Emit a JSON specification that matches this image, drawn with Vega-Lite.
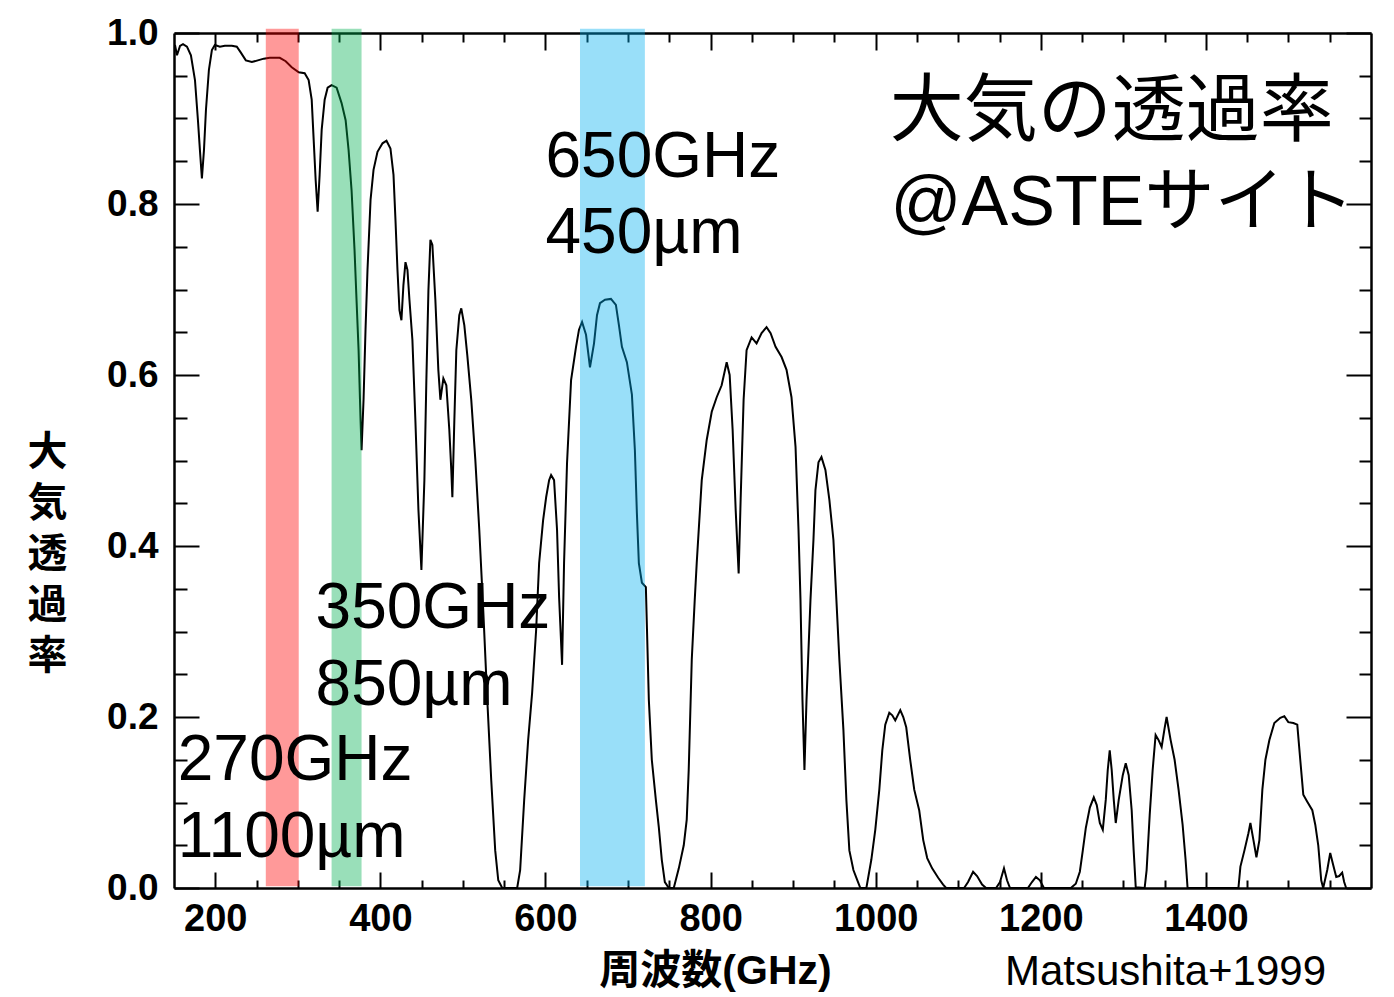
{
  "$schema": "https://vega.github.io/schema/vega-lite/v6.json",
  "width": 1197,
  "height": 855,
  "autosize": {"type": "none"},
  "padding": {"left": 174, "top": 33, "right": 23, "bottom": 109},
  "background": "white",
  "config": {
    "view": {"stroke": null},
    "axis": {"domainColor": "black", "domainWidth": 2.5, "tickColor": "black", "tickWidth": 2, "labelColor": "black", "titleColor": "black", "grid": false}
  },
  "datasets": {
    "curve": [
      {"f":151.2,"t":0.986},{"f":153.6,"t":0.974},{"f":157.3,"t":0.985},{"f":160.9,"t":0.987},{"f":165.7,"t":0.984},{"f":170.5,"t":0.974},{"f":175.4,"t":0.945},{"f":179.0,"t":0.898},{"f":181.4,"t":0.863},{"f":183.8,"t":0.830},{"f":186.3,"t":0.863},{"f":188.7,"t":0.910},{"f":192.3,"t":0.957},{"f":195.9,"t":0.980},{"f":199.5,"t":0.986},{"f":205.6,"t":0.984},{"f":211.6,"t":0.985},{"f":220.1,"t":0.985},{"f":226.1,"t":0.984},{"f":231.0,"t":0.977},{"f":237.0,"t":0.968},{"f":244.3,"t":0.966},{"f":251.5,"t":0.968},{"f":258.8,"t":0.970},{"f":266.0,"t":0.971},{"f":278.1,"t":0.971},{"f":285.3,"t":0.967},{"f":292.6,"t":0.960},{"f":301.1,"t":0.954},{"f":308.3,"t":0.953},{"f":313.1,"t":0.945},{"f":316.8,"t":0.922},{"f":319.2,"t":0.875},{"f":321.6,"t":0.828},{"f":324.0,"t":0.791},{"f":326.4,"t":0.834},{"f":328.9,"t":0.887},{"f":332.5,"t":0.922},{"f":336.1,"t":0.936},{"f":340.9,"t":0.939},{"f":347.0,"t":0.936},{"f":353.0,"t":0.918},{"f":357.9,"t":0.898},{"f":361.5,"t":0.863},{"f":365.1,"t":0.816},{"f":368.7,"t":0.746},{"f":371.1,"t":0.688},{"f":373.6,"t":0.629},{"f":376.0,"t":0.547},{"f":377.2,"t":0.512},{"f":379.6,"t":0.571},{"f":382.0,"t":0.653},{"f":384.4,"t":0.723},{"f":388.1,"t":0.805},{"f":391.7,"t":0.840},{"f":396.5,"t":0.861},{"f":402.6,"t":0.871},{"f":407.4,"t":0.874},{"f":412.2,"t":0.865},{"f":415.9,"t":0.834},{"f":418.3,"t":0.781},{"f":420.7,"t":0.723},{"f":423.1,"t":0.676},{"f":425.5,"t":0.664},{"f":427.9,"t":0.705},{"f":430.4,"t":0.732},{"f":432.8,"t":0.723},{"f":435.2,"t":0.688},{"f":438.8,"t":0.641},{"f":442.4,"t":0.547},{"f":446.1,"t":0.442},{"f":449.7,"t":0.372},{"f":453.3,"t":0.477},{"f":455.7,"t":0.594},{"f":458.2,"t":0.699},{"f":460.6,"t":0.758},{"f":463.0,"t":0.752},{"f":466.6,"t":0.688},{"f":470.2,"t":0.606},{"f":472.7,"t":0.571},{"f":476.3,"t":0.596},{"f":479.9,"t":0.588},{"f":483.5,"t":0.536},{"f":485.9,"t":0.489},{"f":487.2,"t":0.457},{"f":489.6,"t":0.547},{"f":492.0,"t":0.629},{"f":495.6,"t":0.670},{"f":498.0,"t":0.678},{"f":501.7,"t":0.658},{"f":505.3,"t":0.623},{"f":510.1,"t":0.571},{"f":515.0,"t":0.501},{"f":519.8,"t":0.419},{"f":524.6,"t":0.325},{"f":529.5,"t":0.220},{"f":534.3,"t":0.126},{"f":539.1,"t":0.044},{"f":542.8,"t":0.009},{"f":547.6,"t":0},{"f":565.7,"t":0},{"f":569.3,"t":0.021},{"f":574.2,"t":0.103},{"f":579.0,"t":0.173},{"f":583.8,"t":0.228},{"f":588.7,"t":0.302},{"f":592.3,"t":0.380},{"f":597.1,"t":0.430},{"f":600.8,"t":0.457},{"f":604.4,"t":0.477},{"f":606.8,"t":0.483},{"f":610.4,"t":0.477},{"f":614.0,"t":0.419},{"f":616.5,"t":0.340},{"f":620.1,"t":0.261},{"f":622.5,"t":0.380},{"f":626.1,"t":0.497},{"f":631.0,"t":0.594},{"f":637.0,"t":0.633},{"f":640.6,"t":0.653},{"f":644.3,"t":0.662},{"f":649.1,"t":0.647},{"f":653.9,"t":0.609},{"f":658.8,"t":0.637},{"f":662.4,"t":0.670},{"f":666.0,"t":0.684},{"f":672.1,"t":0.688},{"f":679.3,"t":0.689},{"f":685.3,"t":0.682},{"f":689.0,"t":0.658},{"f":692.6,"t":0.633},{"f":698.6,"t":0.615},{"f":704.7,"t":0.577},{"f":708.3,"t":0.512},{"f":710.7,"t":0.439},{"f":713.1,"t":0.380},{"f":716.8,"t":0.357},{"f":721.6,"t":0.352},{"f":725.2,"t":0.220},{"f":728.8,"t":0.150},{"f":733.7,"t":0.103},{"f":737.3,"t":0.071},{"f":740.9,"t":0.033},{"f":744.6,"t":0.007},{"f":749.4,"t":0},{"f":755.4,"t":0},{"f":761.5,"t":0.023},{"f":767.5,"t":0.050},{"f":771.1,"t":0.080},{"f":773.5,"t":0.138},{"f":777.2,"t":0.267},{"f":780.8,"t":0.337},{"f":783.2,"t":0.380},{"f":789.3,"t":0.477},{"f":795.3,"t":0.524},{"f":801.4,"t":0.557},{"f":807.4,"t":0.574},{"f":813.4,"t":0.588},{"f":819.5,"t":0.615},{"f":823.1,"t":0.600},{"f":826.7,"t":0.536},{"f":830.4,"t":0.442},{"f":834.0,"t":0.368},{"f":836.4,"t":0.454},{"f":840.0,"t":0.571},{"f":843.6,"t":0.629},{"f":849.7,"t":0.644},{"f":855.7,"t":0.637},{"f":861.8,"t":0.649},{"f":867.8,"t":0.656},{"f":872.7,"t":0.649},{"f":878.7,"t":0.633},{"f":886.0,"t":0.621},{"f":892.0,"t":0.606},{"f":898.0,"t":0.574},{"f":902.9,"t":0.516},{"f":906.5,"t":0.419},{"f":908.9,"t":0.337},{"f":911.3,"t":0.220},{"f":913.7,"t":0.138},{"f":916.2,"t":0.220},{"f":921.0,"t":0.337},{"f":924.6,"t":0.407},{"f":927.0,"t":0.465},{"f":930.7,"t":0.498},{"f":934.3,"t":0.504},{"f":939.1,"t":0.489},{"f":943.9,"t":0.454},{"f":948.8,"t":0.407},{"f":952.4,"t":0.337},{"f":956.0,"t":0.267},{"f":960.9,"t":0.185},{"f":964.5,"t":0.103},{"f":968.1,"t":0.044},{"f":973.0,"t":0.021},{"f":977.8,"t":0.009},{"f":981.4,"t":0},{"f":988.7,"t":0},{"f":994.7,"t":0.033},{"f":999.5,"t":0.068},{"f":1004.4,"t":0.115},{"f":1008.0,"t":0.161},{"f":1011.6,"t":0.191},{"f":1016.5,"t":0.205},{"f":1020.1,"t":0.202},{"f":1023.7,"t":0.196},{"f":1029.8,"t":0.208},{"f":1033.4,"t":0.200},{"f":1037.0,"t":0.188},{"f":1041.8,"t":0.150},{"f":1046.7,"t":0.115},{"f":1052.7,"t":0.091},{"f":1057.6,"t":0.056},{"f":1062.4,"t":0.035},{"f":1068.4,"t":0.023},{"f":1075.7,"t":0.012},{"f":1081.7,"t":0.004},{"f":1085.3,"t":0},{"f":1107.1,"t":0},{"f":1111.9,"t":0.007},{"f":1118.0,"t":0.019},{"f":1122.8,"t":0.014},{"f":1128.9,"t":0.004},{"f":1133.7,"t":0},{"f":1145.8,"t":0},{"f":1150.6,"t":0.007},{"f":1155.4,"t":0.023},{"f":1159.1,"t":0.009},{"f":1162.7,"t":0},{"f":1184.4,"t":0},{"f":1189.3,"t":0.007},{"f":1194.1,"t":0.013},{"f":1198.9,"t":0.009},{"f":1203.8,"t":0},{"f":1236.4,"t":0},{"f":1242.4,"t":0.005},{"f":1247.3,"t":0.019},{"f":1250.9,"t":0.044},{"f":1254.5,"t":0.070},{"f":1259.4,"t":0.094},{"f":1264.2,"t":0.106},{"f":1267.8,"t":0.097},{"f":1271.5,"t":0.076},{"f":1275.1,"t":0.068},{"f":1278.7,"t":0.103},{"f":1281.1,"t":0.138},{"f":1283.5,"t":0.161},{"f":1285.9,"t":0.138},{"f":1288.4,"t":0.103},{"f":1290.8,"t":0.076},{"f":1294.4,"t":0.103},{"f":1299.3,"t":0.132},{"f":1302.9,"t":0.146},{"f":1306.5,"t":0.132},{"f":1310.1,"t":0.091},{"f":1312.5,"t":0.044},{"f":1315.0,"t":0.001},{"f":1325.8,"t":0},{"f":1328.2,"t":0.021},{"f":1331.9,"t":0.085},{"f":1335.5,"t":0.138},{"f":1339.1,"t":0.179},{"f":1342.7,"t":0.173},{"f":1346.4,"t":0.165},{"f":1350.0,"t":0.187},{"f":1352.4,"t":0.200},{"f":1357.3,"t":0.173},{"f":1362.1,"t":0.150},{"f":1366.9,"t":0.115},{"f":1371.8,"t":0.074},{"f":1375.4,"t":0.033},{"f":1377.8,"t":0},{"f":1439.4,"t":0},{"f":1441.8,"t":0.025},{"f":1446.7,"t":0.044},{"f":1451.5,"t":0.064},{"f":1453.9,"t":0.076},{"f":1457.6,"t":0.056},{"f":1461.2,"t":0.036},{"f":1464.8,"t":0.056},{"f":1468.4,"t":0.115},{"f":1472.1,"t":0.150},{"f":1476.9,"t":0.173},{"f":1482.9,"t":0.193},{"f":1490.2,"t":0.199},{"f":1495.0,"t":0.201},{"f":1499.8,"t":0.194},{"f":1505.9,"t":0.193},{"f":1510.7,"t":0.191},{"f":1514.3,"t":0.150},{"f":1518.0,"t":0.109},{"f":1522.8,"t":0.101},{"f":1528.9,"t":0.091},{"f":1532.5,"t":0.074},{"f":1536.1,"t":0.050},{"f":1539.7,"t":0.009},{"f":1542.1,"t":0},{"f":1547.0,"t":0.021},{"f":1550.6,"t":0.041},{"f":1554.2,"t":0.027},{"f":1557.9,"t":0.013},{"f":1561.5,"t":0.014},{"f":1565.1,"t":0.018},{"f":1567.5,"t":0.007},{"f":1569.9,"t":0}
    ],
    "bands": [
      {"band": "270GHz", "f0": 261.2, "f1": 301.1},
      {"band": "350GHz", "f0": 340.9, "f1": 377.2},
      {"band": "650GHz", "f0": 641.8, "f1": 720.4}
    ],
    "bandLabels": [
      {"label": "650GHz", "f": 600, "t": 0.832},
      {"label": "450µm", "f": 600, "t": 0.743},
      {"label": "350GHz", "f": 321.5, "t": 0.304},
      {"label": "850µm", "f": 321.5, "t": 0.214},
      {"label": "270GHz", "f": 154.5, "t": 0.126},
      {"label": "1100µm", "f": 154.5, "t": 0.036}
    ],
    "titleJa": [
      {"label": "大気の透過率", "f": 1017, "t": 0.881}
    ],
    "titleSite": [
      {"label": "@ASTEサイト", "f": 1018, "t": 0.775}
    ],
    "credit": [
      {"label": "Matsushita+1999", "f": 1156.6, "t": -0.1135}
    ]
  },
  "layer": [
    {
      "data": {"name": "curve"},
      "mark": {"type": "line", "color": "black", "strokeWidth": 2},
      "encoding": {
        "x": {"field": "f", "type": "quantitative", "scale": {"domain": [150, 1600], "nice": false, "zero": false},
          "axis": {"orient": "bottom", "values": [200, 400, 600, 800, 1000, 1200, 1400], "format": "d", "tickSize": -16, "labelPadding": 28,
            "labelFont": "Liberation Sans", "labelFontWeight": "bold", "labelFontSize": 38, "labelOverlap": false, "labelFlush": false,
            "title": "周波数(GHz)", "titleFont": "Liberation Sans, Noto Sans CJK JP", "titleFontWeight": "bold", "titleFontSize": 41,
            "titleX": 541, "titleY": 95, "titleAlign": "center", "titleBaseline": "alphabetic"}},
        "y": {"field": "t", "type": "quantitative", "scale": {"domain": [0, 1], "nice": false, "zero": false},
          "axis": {"orient": "left", "values": [0, 0.2, 0.4, 0.6, 0.8, 1], "format": ".1f", "tickSize": -25, "labelPadding": 41,
            "labelFont": "Liberation Sans", "labelFontWeight": "bold", "labelFontSize": 37, "labelOverlap": false, "labelFlush": false,
            "title": ["大", "気", "透", "過", "率"], "titleAngle": 0, "titleX": -127, "titleY": 419, "titleAlign": "center", "titleBaseline": "middle",
            "titleLineHeight": 51, "titleFont": "Noto Sans CJK JP", "titleFontWeight": "bold", "titleFontSize": 40}}
      }
    },
    {
      "data": {"name": "curve"},
      "mark": {"type": "line", "opacity": 0},
      "encoding": {
        "x": {"field": "f", "type": "quantitative", "scale": {"domain": [150, 1600], "nice": false, "zero": false},
          "axis": {"orient": "bottom", "values": [250, 300, 350, 450, 500, 550, 650, 700, 750, 850, 900, 950, 1050, 1100, 1150, 1250, 1300, 1350, 1450, 1500, 1550], "tickSize": -8, "labels": false, "domain": false, "title": null}},
        "y": {"field": "t", "type": "quantitative", "scale": {"domain": [0, 1], "nice": false, "zero": false},
          "axis": {"orient": "left", "values": [0.05, 0.1, 0.15, 0.25, 0.3, 0.35, 0.45, 0.5, 0.55, 0.65, 0.7, 0.75, 0.85, 0.9, 0.95], "tickSize": -13, "labels": false, "domain": false, "title": null}}
      }
    },
    {
      "data": {"name": "curve"},
      "mark": {"type": "line", "opacity": 0},
      "encoding": {
        "x": {"field": "f", "type": "quantitative", "scale": {"domain": [150, 1600], "nice": false, "zero": false},
          "axis": {"orient": "top", "values": [200, 400, 600, 800, 1000, 1200, 1400], "tickSize": -17, "labels": false, "domain": true, "title": null}},
        "y": {"field": "t", "type": "quantitative", "scale": {"domain": [0, 1], "nice": false, "zero": false},
          "axis": {"orient": "right", "values": [0, 0.2, 0.4, 0.6, 0.8, 1], "tickSize": -25, "labels": false, "domain": true, "title": null}}
      }
    },
    {
      "data": {"name": "curve"},
      "mark": {"type": "line", "opacity": 0},
      "encoding": {
        "x": {"field": "f", "type": "quantitative", "scale": {"domain": [150, 1600], "nice": false, "zero": false},
          "axis": {"orient": "top", "values": [250, 300, 350, 450, 500, 550, 650, 700, 750, 850, 900, 950, 1050, 1100, 1150, 1250, 1300, 1350, 1450, 1500, 1550], "tickSize": -9, "labels": false, "domain": false, "title": null}},
        "y": {"field": "t", "type": "quantitative", "scale": {"domain": [0, 1], "nice": false, "zero": false},
          "axis": {"orient": "right", "values": [0.05, 0.1, 0.15, 0.25, 0.3, 0.35, 0.45, 0.5, 0.55, 0.65, 0.7, 0.75, 0.85, 0.9, 0.95], "tickSize": -12, "labels": false, "domain": false, "title": null}}
      }
    },
    {
      "data": {"name": "bands"},
      "mark": {"type": "rect", "opacity": 0.4},
      "encoding": {
        "x": {"field": "f0", "type": "quantitative", "axis": null, "scale": {"domain": [150, 1600], "nice": false, "zero": false}},
        "x2": {"field": "f1"},
        "y": {"datum": 0.002, "type": "quantitative", "axis": null, "scale": {"domain": [0, 1], "nice": false, "zero": false}},
        "y2": {"datum": 1.005},
        "color": {"field": "band", "type": "nominal", "scale": {"domain": ["270GHz", "350GHz", "650GHz"], "range": ["#FF0000", "#00B050", "#00B0F0"]}, "legend": null}
      }
    },
    {
      "data": {"name": "bandLabels"},
      "mark": {"type": "text", "align": "left", "baseline": "alphabetic", "font": "Liberation Sans", "fontSize": 64, "color": "black"},
      "encoding": {
        "x": {"field": "f", "type": "quantitative", "axis": null, "scale": {"domain": [150, 1600], "nice": false, "zero": false}},
        "y": {"field": "t", "type": "quantitative", "axis": null, "scale": {"domain": [0, 1], "nice": false, "zero": false}},
        "text": {"field": "label"}
      }
    },
    {
      "data": {"name": "titleJa"},
      "mark": {"type": "text", "align": "left", "baseline": "alphabetic", "font": "Noto Sans CJK JP", "fontSize": 74, "color": "black"},
      "encoding": {
        "x": {"field": "f", "type": "quantitative", "axis": null, "scale": {"domain": [150, 1600], "nice": false, "zero": false}},
        "y": {"field": "t", "type": "quantitative", "axis": null, "scale": {"domain": [0, 1], "nice": false, "zero": false}},
        "text": {"field": "label"}
      }
    },
    {
      "data": {"name": "titleSite"},
      "mark": {"type": "text", "align": "left", "baseline": "alphabetic", "font": "Liberation Sans, Noto Sans CJK JP", "fontSize": 70, "color": "black"},
      "encoding": {
        "x": {"field": "f", "type": "quantitative", "axis": null, "scale": {"domain": [150, 1600], "nice": false, "zero": false}},
        "y": {"field": "t", "type": "quantitative", "axis": null, "scale": {"domain": [0, 1], "nice": false, "zero": false}},
        "text": {"field": "label"}
      }
    },
    {
      "data": {"name": "credit"},
      "mark": {"type": "text", "align": "left", "baseline": "alphabetic", "font": "Liberation Sans", "fontSize": 42, "color": "black"},
      "encoding": {
        "x": {"field": "f", "type": "quantitative", "axis": null, "scale": {"domain": [150, 1600], "nice": false, "zero": false}},
        "y": {"field": "t", "type": "quantitative", "axis": null, "scale": {"domain": [0, 1], "nice": false, "zero": false}},
        "text": {"field": "label"}
      }
    }
  ],
  "resolve": {"axis": {"x": "independent", "y": "independent"}}
}
